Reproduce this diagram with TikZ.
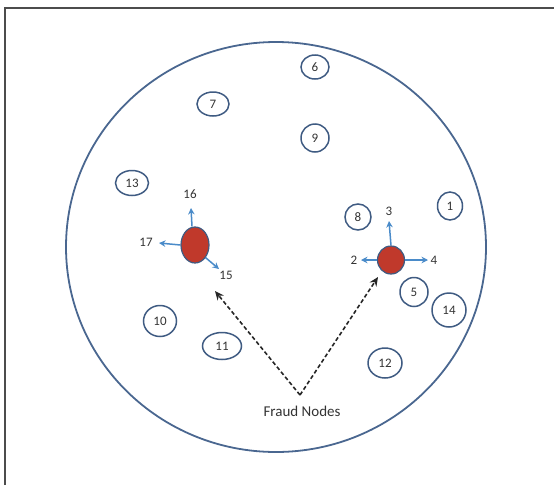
\documentclass[tikz,border=0pt]{standalone}
\usepackage{fontspec}
\setmainfont{Carlito}
\usetikzlibrary{arrows.meta,shapes.geometric}
\definecolor{ringblue}{HTML}{4A6790}
\definecolor{nodeblue}{HTML}{3F5B82}
\definecolor{linkblue}{HTML}{4A8BC9}
\definecolor{fraudred}{HTML}{C0392B}
\definecolor{txtgray}{HTML}{333333}
\tikzset{
  peer/.style={draw=nodeblue, line width=1.5pt, ellipse, inner sep=0pt,
    minimum width=28pt, minimum height=24pt, text=txtgray, font=\fontsize{13}{13}\selectfont},
  fraud/.style={draw=nodeblue, line width=1.2pt, ellipse, fill=fraudred, inner sep=0pt},
  lbl/.style={text=txtgray, font=\fontsize{13}{13}\selectfont, inner sep=1pt},
  link/.style={draw=linkblue, line width=1.5pt, -{Stealth[length=6.5pt,width=6.5pt]}},
  pointer/.style={draw=black!85, line width=1.6pt, dash pattern=on 4pt off 2.5pt,
    -{Stealth[length=9pt,width=8pt]}}
}
\begin{document}
\begin{tikzpicture}[x=1pt,y=-1pt]
\useasboundingbox (0,0) rectangle (554,485);
% frame
\draw[draw=black!70, line width=1.8pt] (5,485) -- (5,8) -- (554,8);
% network boundary
\draw[draw=ringblue, line width=1.8pt] (276,247) ellipse [x radius=210, y radius=205];
% ordinary nodes
\node[peer] (n6)  at (315,67)  {6};
\node[peer, minimum width=32pt] (n7)  at (213,104) {7};
\node[peer, minimum height=28pt] (n9)  at (315,138) {9};
\node[peer, minimum width=33pt, minimum height=25pt] (n13) at (132,183) {13};
\node[peer, minimum width=26pt, minimum height=26pt] (n8)  at (358,217) {8};
\node[peer, minimum width=25pt, minimum height=28pt] (n1)  at (450,206) {1};
\node[peer, minimum height=29pt] (n5)  at (414,292) {5};
\node[peer, minimum width=34pt, minimum height=34pt] (n14) at (449,310) {14};
\node[peer, minimum width=34pt, minimum height=30pt] (n12) at (385,363) {12};
\node[peer, minimum width=33pt, minimum height=31pt] (n10) at (160,321) {10};
\node[peer, minimum width=39pt, minimum height=27pt] (n11) at (222,346) {11};
% fraud nodes and their links
\node[fraud, minimum width=28pt, minimum height=36pt] (fl) at (195,245) {};
\node[fraud, minimum width=27pt, minimum height=28pt] (fr) at (391,260) {};
\coordinate (t16) at (191,208);
\coordinate (t17) at (159,243);
\coordinate (t15) at (219,269);
\coordinate (t3)  at (389,221);
\coordinate (t2)  at (361,260);
\coordinate (t4)  at (428,260);
\draw[link] (fl.north) ++(-3,0) -- (t16);
\draw[link] (fl.west) -- (t17);
\draw[link] (fl.-50) -- (t15);
\draw[link] (fr.north) -- (t3);
\draw[link] (fr.west) -- (t2);
\draw[link] (fr.east) -- (t4);
\node[lbl] (l16) at (190,194) {16};
\node[lbl] (l17) at (146,242) {17};
\node[lbl] (l15) at (226,275) {15};
\node[lbl] (l3)  at (389,211) {3};
\node[lbl] (l2)  at (354,260) {2};
\node[lbl] (l4)  at (434,260) {4};
% caption with pointers
\coordinate (apex) at (300,395);
\coordinate (pl) at (215,291);
\coordinate (pr) at (378,277);
\draw[pointer] (apex) -- (pl);
\draw[pointer] (apex) -- (pr);
\node[text=txtgray, font=\fontsize{15}{15}\selectfont] (cap) at (302,411) {Fraud Nodes};
\end{tikzpicture}
\end{document}
